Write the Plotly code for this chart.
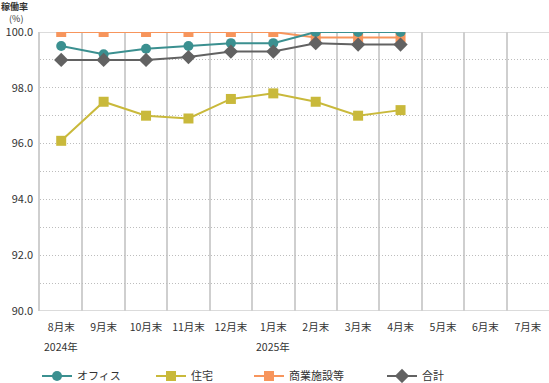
import plotly.graph_objects as go

months = ["8月末", "9月末", "10月末", "11月末", "12月末", "1月末", "2月末", "3月末", "4月末", "5月末", "6月末", "7月末"]
years = ["2024年", "", "", "", "", "2025年", "", "", "", "", "", ""]
office = [99.5, 99.2, 99.4, 99.5, 99.6, 99.6, 100.0, 100.0, 100.0]
residential = [96.1, 97.5, 97.0, 96.9, 97.6, 97.8, 97.5, 97.0, 97.2]
commercial = [100.0, 100.0, 100.0, 100.0, 100.0, 100.0, 99.8, 99.8, 99.8]
total = [99.0, 99.0, 99.0, 99.1, 99.3, 99.3, 99.6, 99.55, 99.55]

names = ["オフィス", "住宅", "商業施設等", "合計"]
colors = ["#3b9090", "#c9b93b", "#f7955c", "#626262"]
symbols = ["circle", "square", "square", "diamond"]
series = [office, residential, commercial, total]
legend_ids = ["legend", "legend2", "legend3", "legend4"]
legend_px = [37, 151, 249, 382]
draw_order = [2, 1, 0, 3]

xs = list(range(len(months)))
W, H, L, T, B = 549, 383, 40, 32, 72
ph = H - T - B
pw = W - L

fig = go.Figure()
for i in draw_order:
    vals = series[i]
    fig.add_trace(go.Scatter(
        x=xs[:len(vals)], y=vals, name=names[i], mode="lines+markers",
        legend=legend_ids[i],
        line=dict(color=colors[i], width=2),
        marker=dict(color=colors[i], symbol=symbols[i], size=11 if symbols[i] == "diamond" else 10),
    ))

font_family = "Noto Sans CJK JP, sans-serif"
grid_c = "#cfcfcf"
dot_c = "#bdbdbd"
layout_legends = {}
for lid, px in zip(legend_ids, legend_px):
    layout_legends[lid] = dict(
        orientation="h", x=(px - L) / pw, xanchor="left",
        yref="container", y=(H - 376) / H, yanchor="middle",
        font=dict(size=11, color="#333333"), bgcolor="rgba(0,0,0,0)")

fig.update_layout(
    width=W, height=H,
    margin=dict(l=L, r=0, t=T, b=B),
    paper_bgcolor="white", plot_bgcolor="white",
    font=dict(family=font_family, size=10.5, color="#333333"),
    showlegend=True,
    xaxis=dict(
        range=[-0.5, 11.5], tickmode="array", tickvals=xs, ticktext=months,
        showgrid=False, zeroline=False, showline=False, ticks="",
        automargin=False, ticklabelstandoff=8,
        tickfont=dict(size=10.5),
        minor=dict(tickmode="array", tickvals=[i + 0.5 for i in range(-1, 11)],
                   showgrid=True, gridcolor=grid_c, gridwidth=1.5, ticks=""),
    ),
    yaxis=dict(
        range=[90, 100], dtick=2, tickformat=".1f",
        showgrid=True, gridcolor=dot_c, griddash="1px,2px", gridwidth=1,
        zeroline=False, showline=True, linecolor=grid_c, linewidth=1.5,
        ticks="", tickfont=dict(size=11), automargin=False, ticklabelstandoff=3,
        minor=dict(dtick=1, showgrid=True, gridcolor=dot_c, griddash="1px,2px", gridwidth=1),
    ),
    **layout_legends,
)
for yv in (90, 100):
    fig.add_shape(type="line", xref="paper", yref="y", x0=0, x1=1, y0=yv, y1=yv,
                  line=dict(color=grid_c, width=1.5), layer="below")
for xv, yr in zip(xs, years):
    if yr:
        fig.add_annotation(xref="x", yref="paper", x=xv, y=(H - B - 346) / ph, yanchor="middle",
                           text=yr, showarrow=False, font=dict(size=10.5, color="#333333"))
fig.add_annotation(xref="paper", yref="paper", x=(0 - L) / pw, y=(H - B + 1) / ph,
                   xanchor="left", yanchor="top", borderpad=0, align="left",
                   text="<b>稼働率</b><br>\u00a0\u00a0\u00a0\u00a0(%)", showarrow=False,
                   font=dict(size=9, color="#333333"))
fig.write_html("out.html", config={"displayModeBar": False},
               post_script="document.body.style.margin='0';document.body.style.padding='0';")
